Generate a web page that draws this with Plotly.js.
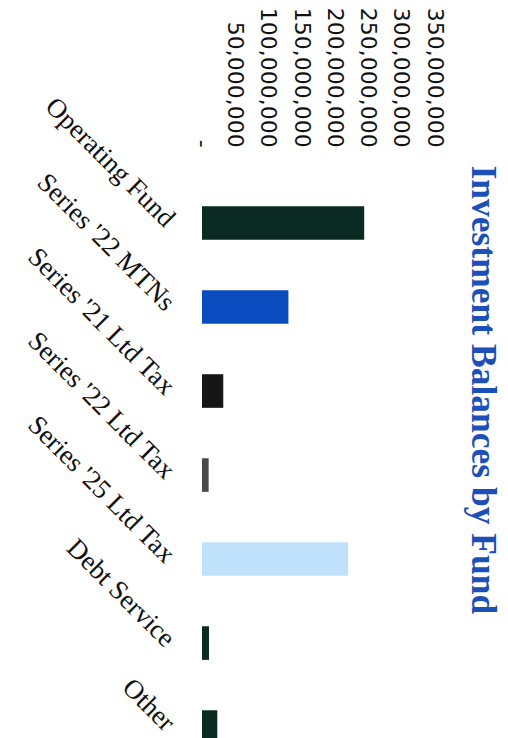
<!DOCTYPE html>
<html>
<head>
<meta charset="utf-8">
<script src="https://cdn.plot.ly/plotly-3.0.1.min.js"></script>
<style>html,body{margin:0;padding:0;background:#fff;}#chart{width:508px;height:738px;}</style>
</head>
<body>
<div id="chart"></div>
<script>
const categories = ["Operating Fund", "Series '22 MTNs", "Series '21 Ltd Tax", "Series '22 Ltd Tax", "Series '25 Ltd Tax", "Debt Service", "Other"];
const balances = [244000000, 130000000, 32000000, 10000000, 220000000, 10500000, 23000000];
const barColors = ["#0b2a22", "#0a4cc0", "#161616", "#4a4a4a", "#bfe1fb", "#0b2a22", "#0b2a22"];
const tickValues = [0, 50000000, 100000000, 150000000, 200000000, 250000000, 300000000, 350000000];
const tickLabels = ["-", "50,000,000", "100,000,000", "150,000,000", "200,000,000", "250,000,000", "300,000,000", "350,000,000"];
const chartTitle = "Investment Balances by Fund";

const trace = {
  type: "bar",
  orientation: "h",
  y: categories,
  x: balances,
  marker: {color: barColors},
  width: 0.4,
  hoverinfo: "none"
};

const layout = {
  width: 508,
  height: 738,
  margin: {l: 202, r: 72, t: 152, b: 0, pad: 0},
  paper_bgcolor: "#ffffff",
  plot_bgcolor: "#ffffff",
  showlegend: false,
  xaxis: {
    side: "top",
    range: [0, 352000000],
    tickvals: tickValues,
    ticktext: tickLabels,
    tickangle: 90,
    showgrid: false,
    zeroline: false,
    showline: false,
    ticks: "",
    ticklabelstandoff: 0,
    tickfont: {family: "DejaVu Sans", size: 22, color: "#111"},
    automargin: false
  },
  yaxis: {
    type: "category",
    range: [6.13, -0.845],
    tickangle: 45,
    showgrid: false,
    zeroline: false,
    showline: false,
    ticks: "",
    ticklabelstandoff: 27,
    tickfont: {family: "Liberation Serif", size: 27, color: "#111"},
    automargin: false
  },
  annotations: [{
    text: "<b>" + chartTitle + "</b>",
    xref: "paper", yref: "paper",
    x: 1.207, y: 0.594,
    showarrow: false,
    textangle: 90,
    font: {family: "Liberation Serif", size: 35.5, color: "#1d4fb8"},
    xanchor: "center", yanchor: "middle"
  }]
};

Plotly.newPlot("chart", [trace], layout, {displayModeBar: false, staticPlot: true});
</script>
</body>
</html>
